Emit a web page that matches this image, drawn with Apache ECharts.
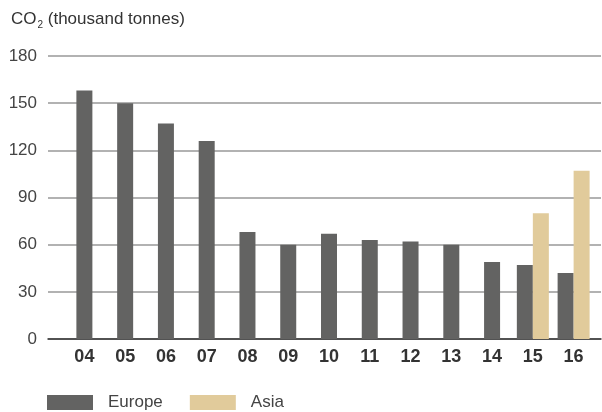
<!DOCTYPE html>
<html>
<head>
<meta charset="utf-8">
<script src="https://cdn.jsdelivr.net/npm/echarts@6/dist/echarts.min.js"></script>
<style>html,body{margin:0;padding:0;background:#fff}#c{width:602px;height:412px}</style>
</head>
<body>
<div id="c"></div>
<script>
var years = ['04','05','06','07','08','09','10','11','12','13','14','15','16'];
var europe = [158,150,137,126,68,60,67,63,62,60,49,47,42];
var asia = [null,null,null,null,null,null,null,null,null,null,null,80,107];
var yTicks = [0,30,60,90,120,150,180];

var europeSingle = europe.map(function(v,i){return asia[i]==null ? v : null;});
var europePair = europe.map(function(v,i){return asia[i]!=null ? v : null;});

var chart = echarts.init(document.getElementById('c'), null, {renderer:'canvas'});
var FONT = '"Liberation Sans", Arial, sans-serif';
chart.setOption({
  animation:false,
  title:{
    left:11, top:9, padding:0,
    text:'{a|CO}{b|2}{a| (thousand tonnes)}',
    textStyle:{
      fontWeight:'normal',
      rich:{
        a:{fontSize:17, color:'#333', fontFamily:FONT, fontWeight:'normal'},
        b:{fontSize:10, color:'#333', fontFamily:FONT, fontWeight:'normal', verticalAlign:'bottom', padding:[11,0,0,1]}
      }
    }
  },
  legend:{
    left:47, top:394, padding:0,
    icon:'rect', itemWidth:46, itemHeight:15, itemGap:27,
    textStyle:{fontSize:17, color:'#444', fontFamily:FONT, padding:[0,0,0,10]},
    data:['Europe','Asia']
  },
  grid:[
    {left:48, right:1, top:56, bottom:73},
    {left:64, right:8, top:56, bottom:73}
  ],
  xAxis:[
    {gridIndex:0, type:'category', data:years, axisLine:{show:true, lineStyle:{color:'#333', width:1.5}},
     axisTick:{show:false}, axisLabel:{show:false}, splitLine:{show:false}},
    {gridIndex:1, type:'category', data:years, position:'bottom', axisLine:{show:false}, axisTick:{show:false},
     axisLabel:{margin:9, fontSize:18, fontWeight:'bold', color:'#333', fontFamily:FONT}},
    {gridIndex:1, type:'category', data:years, position:'top', show:false}
  ],
  yAxis:[
    {gridIndex:0, type:'value', min:yTicks[0], max:yTicks[yTicks.length-1], interval:30,
     axisLine:{show:false}, axisTick:{show:false},
     axisLabel:{margin:11, fontSize:17, color:'#444', fontFamily:FONT},
     splitLine:{lineStyle:{color:'#999', width:1.5}}},
    {gridIndex:1, type:'value', min:yTicks[0], max:yTicks[yTicks.length-1], interval:30, show:false, splitLine:{show:false}}
  ],
  series:[
    {name:'Europe', type:'bar', xAxisIndex:1, yAxisIndex:1, data:europeSingle, barWidth:16,
     itemStyle:{color:'#636362'}},
    {name:'Europe', type:'bar', xAxisIndex:2, yAxisIndex:1, data:europePair, barWidth:16, barGap:0,
     itemStyle:{color:'#636362'}},
    {name:'Asia', type:'bar', xAxisIndex:2, yAxisIndex:1, data:asia, barWidth:16, barGap:0,
     itemStyle:{color:'#e1cb9b'}}
  ]
});
</script>
</body>
</html>
